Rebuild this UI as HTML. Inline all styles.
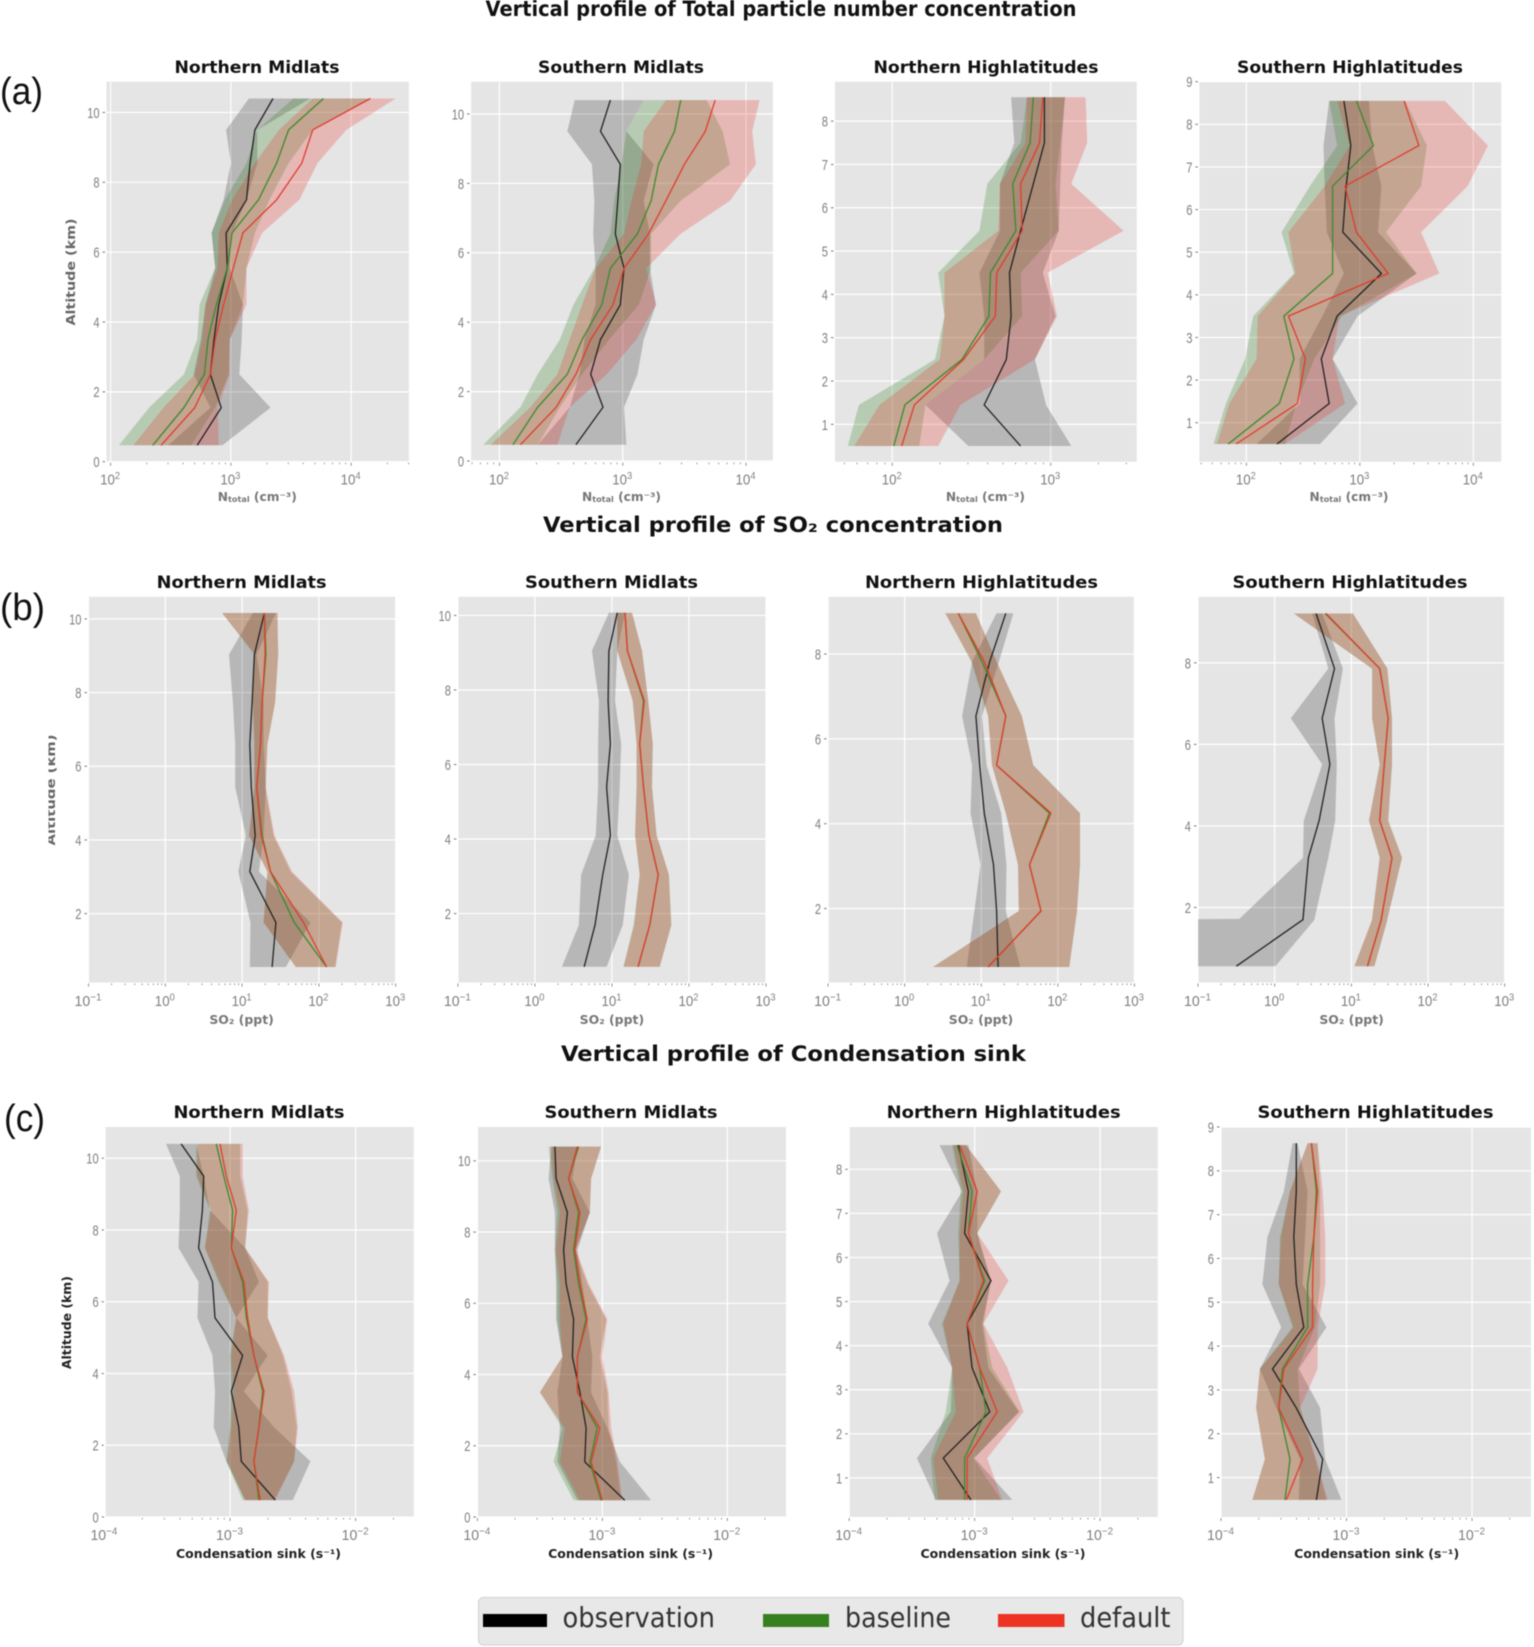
<!DOCTYPE html>
<html lang="en">
<head>
<meta charset="utf-8">
<title>Vertical profiles</title>
<style>
html,body{margin:0;padding:0;background:#fff;}
svg{display:block;filter:blur(0.6px);}
text{font-family:"DejaVu Sans","Liberation Sans",sans-serif;}
.row{font-weight:bold;font-size:21px;fill:#111;text-anchor:middle;}
.pt{font-weight:bold;font-size:16.5px;fill:#111;text-anchor:middle;}
.xl{font-weight:bold;font-size:12px;fill:#777;text-anchor:middle;}
.xd{font-weight:bold;font-size:12px;fill:#222;text-anchor:middle;}
.yl{font-weight:bold;font-size:12px;text-anchor:middle;}
.tag{font-family:"Liberation Sans",sans-serif;font-size:38px;fill:#111;}
.leg{font-size:28px;fill:#333;}
.tick{font-family:"Liberation Sans",sans-serif;font-size:15px;fill:#808080;}
</style>
</head>
<body>
<svg id="fig" xmlns="http://www.w3.org/2000/svg" width="1534" height="1647" viewBox="0 0 1534 1647">
<defs><clipPath id="ylabel-b-clip"><rect x="48.5" y="700" width="20" height="170"/></clipPath></defs>
<rect x="0" y="0" width="1534" height="1647" fill="#fff"/>
<text class="row" x="781" y="16" textLength="591" lengthAdjust="spacingAndGlyphs">Vertical profile of Total particle number concentration</text>
<text class="row" x="773" y="532" textLength="460" lengthAdjust="spacingAndGlyphs">Vertical profile of SO₂ concentration</text>
<text class="row" x="793.5" y="1061" textLength="465" lengthAdjust="spacingAndGlyphs">Vertical profile of Condensation sink</text>
<text class="tag" x="0" y="104" textLength="43" lengthAdjust="spacingAndGlyphs">(a)</text>
<text class="tag" x="0" y="620" textLength="45" lengthAdjust="spacingAndGlyphs">(b)</text>
<text class="tag" x="4" y="1131" textLength="41" lengthAdjust="spacingAndGlyphs">(c)</text>

<text class="pt" x="257" y="73" textLength="165" lengthAdjust="spacingAndGlyphs">Northern Midlats</text>
<text class="pt" x="621" y="73" textLength="166" lengthAdjust="spacingAndGlyphs">Southern Midlats</text>
<text class="pt" x="986" y="73" textLength="225" lengthAdjust="spacingAndGlyphs">Northern Highlatitudes</text>
<text class="pt" x="1350" y="73" textLength="226" lengthAdjust="spacingAndGlyphs">Southern Highlatitudes</text>
<text class="pt" x="241.6" y="588" textLength="170" lengthAdjust="spacingAndGlyphs">Northern Midlats</text>
<text class="pt" x="611.5" y="588" textLength="173" lengthAdjust="spacingAndGlyphs">Southern Midlats</text>
<text class="pt" x="981.5" y="588" textLength="233" lengthAdjust="spacingAndGlyphs">Northern Highlatitudes</text>
<text class="pt" x="1350" y="588" textLength="235" lengthAdjust="spacingAndGlyphs">Southern Highlatitudes</text>
<text class="pt" x="259" y="1118" textLength="171" lengthAdjust="spacingAndGlyphs">Northern Midlats</text>
<text class="pt" x="631" y="1118" textLength="173" lengthAdjust="spacingAndGlyphs">Southern Midlats</text>
<text class="pt" x="1003.7" y="1118" textLength="234" lengthAdjust="spacingAndGlyphs">Northern Highlatitudes</text>
<text class="pt" x="1375.5" y="1118" textLength="236" lengthAdjust="spacingAndGlyphs">Southern Highlatitudes</text>

<text class="xl" x="257.3" y="501" textLength="79" lengthAdjust="spacingAndGlyphs">N<tspan font-size="8" dy="1">total</tspan><tspan dy="-1"> (cm⁻³)</tspan></text>
<text class="xl" x="621.5" y="501" textLength="79" lengthAdjust="spacingAndGlyphs">N<tspan font-size="8" dy="1">total</tspan><tspan dy="-1"> (cm⁻³)</tspan></text>
<text class="xl" x="985.4" y="501" textLength="79" lengthAdjust="spacingAndGlyphs">N<tspan font-size="8" dy="1">total</tspan><tspan dy="-1"> (cm⁻³)</tspan></text>
<text class="xl" x="1349" y="501" textLength="79" lengthAdjust="spacingAndGlyphs">N<tspan font-size="8" dy="1">total</tspan><tspan dy="-1"> (cm⁻³)</tspan></text>
<text class="xl" x="241.6" y="1024" textLength="64.5" lengthAdjust="spacingAndGlyphs">SO₂ (ppt)</text>
<text class="xl" x="611.9" y="1024" textLength="64.5" lengthAdjust="spacingAndGlyphs">SO₂ (ppt)</text>
<text class="xl" x="981" y="1024" textLength="64.5" lengthAdjust="spacingAndGlyphs">SO₂ (ppt)</text>
<text class="xl" x="1351.6" y="1024" textLength="64.5" lengthAdjust="spacingAndGlyphs">SO₂ (ppt)</text>
<text class="xd" x="258.5" y="1558" textLength="165" lengthAdjust="spacingAndGlyphs">Condensation sink (s⁻¹)</text>
<text class="xd" x="630.6" y="1558" textLength="165" lengthAdjust="spacingAndGlyphs">Condensation sink (s⁻¹)</text>
<text class="xd" x="1003" y="1558" textLength="165" lengthAdjust="spacingAndGlyphs">Condensation sink (s⁻¹)</text>
<text class="xd" x="1376.7" y="1558" textLength="165" lengthAdjust="spacingAndGlyphs">Condensation sink (s⁻¹)</text>

<text class="yl" fill="#666" transform="translate(75,272) rotate(-90)" textLength="107" lengthAdjust="spacingAndGlyphs">Altitude (km)</text>
<g clip-path="url(#ylabel-b-clip)"><text class="yl" fill="#666" transform="translate(55,790) rotate(-90)" textLength="111" lengthAdjust="spacingAndGlyphs">Altitude (km)</text></g>
<text class="yl" fill="#222" transform="translate(71,1322.6) rotate(-90)" textLength="93" lengthAdjust="spacingAndGlyphs">Altitude (km)</text>

<g id="plots"></g>

<g>
<rect x="478.5" y="1597.5" width="704.5" height="47.5" rx="5" fill="#e8e8e8" stroke="#d6d6d6" stroke-width="1.2"/>
<rect x="483" y="1614" width="64" height="13" fill="#000"/>
<text class="leg" x="562.5" y="1627" textLength="152.5" lengthAdjust="spacingAndGlyphs">observation</text>
<rect x="763" y="1614" width="66" height="13" fill="#37801f"/>
<text class="leg" x="845" y="1627" textLength="106" lengthAdjust="spacingAndGlyphs">baseline</text>
<rect x="998" y="1614" width="66.5" height="13" fill="#ec3324"/>
<text class="leg" x="1080" y="1627" textLength="90.5" lengthAdjust="spacingAndGlyphs">default</text>
</g>
</svg>

<script>
// All series values are log10 of the plotted quantity.
// Row a: total particle number concentration (cm-3)
const altMid = [0.47,1.55,2.5,3.5,4.5,5.55,6.55,7.5,8.55,9.5,10.4];
const altHigh = [0.5,1.45,2.5,3.5,4.5,5.47,6.55,7.5,8.55];

const a1ObsLo = [2.48,2.83,2.69,2.75,2.79,2.87,2.84,2.94,3.0,2.96,3.15];
const a1ObsMid = [2.72,2.92,2.83,2.86,2.90,2.97,2.96,3.13,3.16,3.20,3.35];
const a1ObsHi = [2.93,3.33,3.07,3.09,3.10,2.99,3.01,3.13,3.22,3.22,3.66];
const a1BaseLo = [2.07,2.32,2.61,2.72,2.74,2.87,2.84,2.95,3.13,3.22,3.52];
const a1BaseMid = [2.35,2.61,2.78,2.81,2.88,2.97,3.01,3.23,3.38,3.48,3.77];
const a1BaseHi = [2.67,2.87,2.98,2.99,3.10,3.13,3.20,3.32,3.48,3.68,4.16];
const a1DefLo = [2.19,2.44,2.70,2.76,2.79,2.89,2.90,3.01,3.20,3.40,3.68];
const a1DefMid = [2.42,2.70,2.83,2.87,2.94,3.02,3.10,3.38,3.59,3.68,4.16];
const a1DefHi = [2.90,2.89,2.99,2.99,3.13,3.13,3.26,3.57,3.72,3.96,4.37];

const a2ObsLo = [2.31,2.57,2.65,2.69,2.78,2.78,2.76,2.77,2.75,2.55,2.61];
const a2ObsMid = [2.62,2.84,2.74,2.82,2.98,3.01,2.94,2.96,2.98,2.82,2.90];
const a2ObsHi = [3.03,3.01,3.12,3.17,3.27,3.22,3.22,3.17,3.25,3.03,3.17];
const a2BaseLo = [1.87,2.17,2.31,2.49,2.60,2.77,2.90,2.93,2.99,3.03,3.17];
const a2BaseMid = [2.11,2.31,2.55,2.67,2.83,2.90,3.12,3.23,3.29,3.42,3.47];
const a2BaseHi = [2.31,2.49,2.67,2.89,3.13,3.23,3.23,3.47,3.87,3.81,3.68];
const a2DefLo = [1.93,2.25,2.47,2.57,2.67,2.78,3.01,3.07,3.15,3.17,3.35];
const a2DefMid = [2.17,2.46,2.62,2.74,2.92,3.01,3.21,3.35,3.50,3.67,3.75];
const a2DefHi = [2.47,2.57,2.87,3.11,3.27,3.19,3.47,3.87,4.08,4.05,4.11];

const a3ObsLo = [2.48,2.21,2.58,2.58,2.55,2.68,2.68,2.77,2.75];
const a3ObsMid = [2.81,2.58,2.72,2.75,2.74,2.81,2.89,2.96,2.96];
const a3ObsHi = [3.13,2.97,2.90,3.03,2.95,3.05,3.06,3.07,3.09];
const a3BaseLo = [1.72,1.79,2.27,2.33,2.29,2.55,2.60,2.81,2.85];
const a3BaseMid = [2.01,2.08,2.44,2.61,2.62,2.78,2.76,2.87,2.89];
const a3BaseHi = [2.17,2.21,2.58,2.82,2.81,3.05,3.03,3.06,3.09];
const a3DefLo = [1.76,1.92,2.30,2.33,2.33,2.67,2.68,2.84,2.85];
const a3DefMid = [2.06,2.14,2.45,2.65,2.66,2.82,2.81,2.93,2.95];
const a3DefHi = [2.29,2.43,2.90,3.04,2.98,3.46,3.13,3.23,3.22];

const a4ObsLo = [2.09,2.47,2.47,2.67,2.86,2.71,2.69,2.68,2.73];
const a4ObsMid = [2.27,2.73,2.66,2.80,3.19,2.85,2.88,2.92,2.86];
const a4ObsHi = [2.65,2.98,2.76,2.98,3.50,3.16,3.19,3.11,3.08];
const a4BaseLo = [1.71,1.82,1.99,2.06,2.42,2.31,2.56,2.80,2.73];
const a4BaseMid = [1.84,2.29,2.42,2.33,2.76,2.76,2.76,3.12,2.97];
const a4BaseHi = [2.34,2.44,2.60,2.84,3.50,3.23,3.54,3.59,3.40];
const a4DefLo = [1.74,1.85,2.09,2.10,2.43,2.37,2.69,2.91,2.80];
const a4DefMid = [1.91,2.45,2.52,2.37,3.25,2.97,2.87,3.52,3.39];
const a4DefHi = [2.34,2.87,2.76,2.82,3.70,3.54,3.95,4.13,3.75];

// Row b: SO2 concentration (ppt)
const b1Alt = [0.55,1.76,3.14,4.12,5.43,6.6,7.73,9.03,10.16];
const b1ObsLo = [1.10,1.11,0.95,1.05,0.91,0.91,0.88,0.83,1.14];
const b1ObsMid = [1.39,1.44,1.10,1.17,1.12,1.10,1.13,1.16,1.29];
const b1ObsHi = [1.57,1.89,1.22,1.28,1.31,1.28,1.28,1.19,1.44];
const b1BaseLo = [1.70,1.28,1.33,1.09,1.16,1.16,1.14,1.16,0.74];
const b1BaseMid = [2.10,1.68,1.37,1.26,1.19,1.24,1.26,1.31,1.29];
const b1BaseHi = [2.21,2.30,1.63,1.41,1.30,1.33,1.43,1.47,1.46];
const b1DefLo = [1.70,1.28,1.33,1.09,1.16,1.16,1.14,1.17,0.74];
const b1DefMid = [2.10,1.80,1.37,1.25,1.19,1.24,1.26,1.30,1.29];
const b1DefHi = [2.22,2.31,1.65,1.42,1.31,1.33,1.43,1.47,1.46];

const b2Alt = [0.57,1.69,3.04,4.1,5.4,6.55,7.71,9.05,10.07];
const b2ObsLo = [0.35,0.57,0.60,0.79,0.82,0.82,0.83,0.74,0.96];
const b2ObsMid = [0.64,0.78,0.88,0.98,0.93,0.98,0.95,0.96,1.07];
const b2ObsHi = [0.93,1.14,1.22,1.07,1.10,1.12,1.04,1.07,1.17];
const b2BaseLo = [1.15,1.28,1.36,1.30,1.32,1.32,1.27,1.07,1.07];
const b2BaseMid = [1.34,1.49,1.60,1.48,1.41,1.36,1.41,1.20,1.17];
const b2BaseHi = [1.62,1.77,1.74,1.58,1.52,1.53,1.47,1.39,1.26];
const b2DefLo = [1.15,1.29,1.36,1.30,1.32,1.32,1.27,1.07,1.07];
const b2DefMid = [1.34,1.49,1.60,1.48,1.41,1.36,1.42,1.20,1.17];
const b2DefHi = [1.62,1.77,1.74,1.58,1.52,1.53,1.47,1.39,1.26];

const b3Alt = [0.62,1.94,3.03,4.25,5.38,6.54,7.82,8.96];
const b3ObsLo = [0.81,0.91,0.99,0.86,0.88,0.75,0.88,1.20];
const b3ObsMid = [1.22,1.20,1.16,1.04,0.98,0.93,1.11,1.32];
const b3ObsHi = [1.51,1.32,1.33,1.26,1.07,1.01,1.23,1.42];
const b3BaseLo = [0.37,1.49,1.48,1.32,1.14,1.09,0.87,0.53];
const b3BaseMid = [1.09,1.78,1.63,1.89,1.20,1.32,1.01,0.70];
const b3BaseHi = [2.15,2.25,2.29,2.29,1.68,1.53,1.20,0.93];
const b3DefLo = [0.37,1.49,1.48,1.32,1.14,1.09,0.88,0.53];
const b3DefMid = [1.09,1.78,1.63,1.91,1.20,1.32,1.04,0.70];
const b3DefHi = [2.15,2.25,2.29,2.29,1.68,1.53,1.20,0.93];

const b4Alt = [0.56,1.7,1.72,3.22,4.13,5.51,6.64,7.86,9.21];
const b4ObsLo = [-3,-3,-0.46,0.37,0.38,0.62,0.21,0.70,0.49];
const b4ObsMid = [-0.50,0.37,0.37,0.44,0.58,0.72,0.62,0.78,0.54];
const b4ObsHi = [0.01,0.52,0.52,0.70,0.79,0.81,0.78,0.89,0.62];
const b4BaseLo = [1.04,1.27,1.27,1.37,1.23,1.37,1.27,1.27,0.25];
const b4BaseMid = [1.21,1.39,1.39,1.53,1.37,1.43,1.48,1.37,0.66];
const b4BaseHi = [1.30,1.47,1.47,1.66,1.48,1.53,1.53,1.47,1.02];
const b4DefLo = [1.04,1.27,1.27,1.37,1.23,1.37,1.27,1.27,0.25];
const b4DefMid = [1.21,1.39,1.39,1.53,1.37,1.43,1.48,1.37,0.67];
const b4DefHi = [1.30,1.47,1.47,1.66,1.48,1.53,1.53,1.47,1.02];

// Row c: condensation sink (s-1)
const c1ObsLo = [-2.88,-3.03,-3.13,-3.12,-3.14,-3.26,-3.25,-3.41,-3.40,-3.40,-3.51];
const c1ObsMid = [-2.64,-2.91,-2.93,-2.99,-2.90,-3.12,-3.14,-3.25,-3.22,-3.21,-3.39];
const c1ObsHi = [-2.50,-2.36,-2.65,-2.89,-2.70,-2.95,-2.77,-2.88,-3.16,-3.21,-3.27];
const c1BaseLo = [-2.90,-3.03,-3.0,-2.99,-3.0,-2.95,-3.09,-3.20,-3.16,-3.27,-3.27];
const c1BaseMid = [-2.77,-2.81,-2.77,-2.74,-2.81,-2.87,-2.90,-2.99,-2.98,-3.05,-3.11];
const c1BaseHi = [-2.65,-2.49,-2.47,-2.51,-2.58,-2.70,-2.70,-2.88,-2.86,-2.92,-2.92];
const c1DefLo = [-2.88,-3.02,-2.99,-2.97,-2.99,-2.95,-3.08,-3.20,-3.15,-3.26,-3.26];
const c1DefMid = [-2.76,-2.81,-2.77,-2.73,-2.81,-2.86,-2.89,-2.99,-2.95,-3.03,-3.08];
const c1DefHi = [-2.64,-2.49,-2.46,-2.49,-2.57,-2.70,-2.69,-2.88,-2.85,-2.90,-2.90];

const c2ObsLo = [-3.20,-3.36,-3.34,-3.36,-3.32,-3.37,-3.37,-3.38,-3.38,-3.43,-3.41];
const c2ObsMid = [-2.82,-3.14,-3.13,-3.18,-3.24,-3.23,-3.29,-3.31,-3.28,-3.37,-3.38];
const c2ObsHi = [-2.61,-2.86,-2.96,-3.09,-3.08,-3.12,-3.16,-3.20,-3.10,-3.24,-3.20];
const c2BaseLo = [-3.23,-3.39,-3.32,-3.50,-3.32,-3.36,-3.36,-3.38,-3.36,-3.40,-3.43];
const c2BaseMid = [-3.01,-3.10,-3.04,-3.20,-3.20,-3.13,-3.19,-3.23,-3.19,-3.27,-3.19];
const c2BaseHi = [-2.85,-2.89,-2.95,-2.96,-3.02,-2.97,-3.12,-3.22,-3.10,-3.09,-3.01];
const c2DefLo = [-3.18,-3.34,-3.30,-3.50,-3.32,-3.34,-3.34,-3.37,-3.34,-3.39,-3.41];
const c2DefMid = [-3.00,-3.09,-3.02,-3.20,-3.20,-3.12,-3.18,-3.22,-3.18,-3.27,-3.20];
const c2DefHi = [-2.84,-2.88,-2.93,-2.95,-3.0,-2.96,-3.11,-3.21,-3.10,-3.09,-3.01];

const c3ObsLo = [-3.31,-3.46,-3.19,-3.18,-3.37,-3.20,-3.30,-3.10,-3.28];
const c3ObsMid = [-3.03,-3.25,-2.88,-3.02,-3.06,-2.87,-3.08,-3.05,-3.13];
const c3ObsHi = [-2.70,-3.0,-2.65,-2.89,-2.94,-2.87,-2.98,-2.98,-3.05];
const c3BaseLo = [-3.32,-3.35,-3.23,-3.18,-3.26,-3.12,-3.13,-3.11,-3.18];
const c3BaseMid = [-3.08,-3.08,-2.91,-2.96,-3.06,-2.92,-3.05,-3.02,-3.14];
const c3BaseHi = [-2.79,-3.01,-2.64,-2.86,-2.93,-2.87,-2.98,-2.79,-3.07];
const c3DefLo = [-3.29,-3.33,-3.15,-3.18,-3.25,-3.12,-3.12,-3.09,-3.17];
const c3DefMid = [-3.06,-3.06,-2.82,-2.96,-3.06,-2.93,-3.05,-2.98,-3.12];
const c3DefHi = [-2.78,-2.90,-2.61,-2.74,-2.93,-2.73,-2.98,-2.79,-3.07];

const c4Alt = [0.49,1.42,2.59,3.48,4.43,5.41,6.49,7.53,8.63];
const c4ObsLo = [-3.38,-3.37,-3.56,-3.69,-3.52,-3.67,-3.63,-3.50,-3.43];
const c4ObsMid = [-3.24,-3.19,-3.40,-3.59,-3.34,-3.40,-3.42,-3.40,-3.40];
const c4ObsHi = [-3.04,-3.17,-3.21,-3.38,-3.16,-3.35,-3.33,-3.31,-3.39];
const c4BaseLo = [-3.75,-3.65,-3.72,-3.69,-3.43,-3.54,-3.53,-3.45,-3.31];
const c4BaseMid = [-3.49,-3.45,-3.54,-3.51,-3.31,-3.31,-3.26,-3.24,-3.28];
const c4BaseHi = [-3.16,-3.25,-3.37,-3.39,-3.25,-3.21,-3.21,-3.21,-3.23];
const c4DefLo = [-3.75,-3.65,-3.72,-3.69,-3.42,-3.54,-3.52,-3.45,-3.31];
const c4DefMid = [-3.48,-3.35,-3.54,-3.50,-3.27,-3.27,-3.26,-3.23,-3.28];
const c4DefHi = [-3.15,-3.24,-3.37,-3.23,-3.23,-3.17,-3.17,-3.19,-3.23];

// Tick labels (decade exponents and altitudes)
const decadesA12 = [2,3,4];
const decadesA3 = [2,3];
const decadesB = [-1,0,1,2,3];
const decadesC = [-4,-3,-2];
const altTicksEven = [0,2,4,6,8,10];
const altTicksEvenNoZero = [2,4,6,8,10];
const altTicksB34 = [2,4,6,8];
const altTicks8 = [1,2,3,4,5,6,7,8];
const altTicks9 = [1,2,3,4,5,6,7,8,9];

const OBS = {name:'observation', color:'#000000', alpha:0.2, line:'#222222'};
const BASE = {name:'baseline', color:'#2f7f1e', alpha:0.25, line:'#3b8a2c'};
const DEF = {name:'default', color:'#e8322a', alpha:0.25, line:'#e23c2c'};

const panels = [
  {id:'a1',box:[106.6,408.9,81.7,461.7],xlim:[1.967,4.48],ylim:[0,10.88],xt:decadesA12,yt:altTicksEven,alt:altMid,s:[[OBS,a1ObsLo,a1ObsMid,a1ObsHi],[BASE,a1BaseLo,a1BaseMid,a1BaseHi],[DEF,a1DefLo,a1DefMid,a1DefHi]],tickY:484.5},
  {id:'a2',box:[471.1,772.9,81.7,461.7],xlim:[1.77,4.218],ylim:[-0.02,10.93],xt:decadesA12,yt:altTicksEven,alt:altMid,s:[[OBS,a2ObsLo,a2ObsMid,a2ObsHi],[BASE,a2BaseLo,a2BaseMid,a2BaseHi],[DEF,a2DefLo,a2DefMid,a2DefHi]],tickY:484.5},
  {id:'a3',box:[835,1136.8,81.7,461.7],xlim:[1.639,3.543],ylim:[0.138,8.91],xt:decadesA3,yt:altTicks8,alt:altHigh,s:[[OBS,a3ObsLo,a3ObsMid,a3ObsHi],[BASE,a3BaseLo,a3BaseMid,a3BaseHi],[DEF,a3DefLo,a3DefMid,a3DefHi]],tickY:484.5},
  {id:'a4',box:[1199.4,1501.2,81.7,461.7],xlim:[1.586,4.246],ylim:[0.085,9.0],xt:decadesA12,yt:altTicks9,alt:altHigh,s:[[OBS,a4ObsLo,a4ObsMid,a4ObsHi],[BASE,a4BaseLo,a4BaseMid,a4BaseHi],[DEF,a4DefLo,a4DefMid,a4DefHi]],tickY:484.5},
  {id:'b1',box:[88.5,395.7,596.8,982.5],xlim:[-1,3],ylim:[0.13,10.6],xt:decadesB,yt:altTicksEvenNoZero,alt:b1Alt,s:[[OBS,b1ObsLo,b1ObsMid,b1ObsHi],[BASE,b1BaseLo,b1BaseMid,b1BaseHi],[DEF,b1DefLo,b1DefMid,b1DefHi]],tickY:1006},
  {id:'b2',box:[457.9,766,596.8,982.5],xlim:[-1,3],ylim:[0.15,10.5],xt:decadesB,yt:altTicksEvenNoZero,alt:b2Alt,s:[[OBS,b2ObsLo,b2ObsMid,b2ObsHi],[BASE,b2BaseLo,b2BaseMid,b2BaseHi],[DEF,b2DefLo,b2DefMid,b2DefHi]],tickY:1006},
  {id:'b3',box:[828.1,1134.4,596.8,982.5],xlim:[-1,3],ylim:[0.255,9.35],xt:decadesB,yt:altTicksB34,alt:b3Alt,s:[[OBS,b3ObsLo,b3ObsMid,b3ObsHi],[BASE,b3BaseLo,b3BaseMid,b3BaseHi],[DEF,b3DefLo,b3DefMid,b3DefHi]],tickY:1006},
  {id:'b4',box:[1198,1504.7,596.8,982.5],xlim:[-1,3],ylim:[0.16,9.62],xt:decadesB,yt:altTicksB34,alt:b4Alt,s:[[OBS,b4ObsLo,b4ObsMid,b4ObsHi],[BASE,b4BaseLo,b4BaseMid,b4BaseHi],[DEF,b4DefLo,b4DefMid,b4DefHi]],tickY:1006},
  {id:'c1',box:[105.7,413.8,1127,1517],xlim:[-3.99,-1.537],ylim:[0,10.87],xt:decadesC,yt:altTicksEven,alt:altMid,s:[[OBS,c1ObsLo,c1ObsMid,c1ObsHi],[BASE,c1BaseLo,c1BaseMid,c1BaseHi],[DEF,c1DefLo,c1DefMid,c1DefHi]],tickY:1540},
  {id:'c2',box:[477.4,786,1127,1517],xlim:[-4,-1.53],ylim:[0,10.95],xt:decadesC,yt:altTicksEven,alt:altMid,s:[[OBS,c2ObsLo,c2ObsMid,c2ObsHi],[BASE,c2BaseLo,c2BaseMid,c2BaseHi],[DEF,c2DefLo,c2DefMid,c2DefHi]],tickY:1540},
  {id:'c3',box:[849.2,1157.8,1127,1517],xlim:[-4,-1.54],ylim:[0.113,8.96],xt:decadesC,yt:altTicks8,alt:altHigh,s:[[OBS,c3ObsLo,c3ObsMid,c3ObsHi],[BASE,c3BaseLo,c3BaseMid,c3BaseHi],[DEF,c3DefLo,c3DefMid,c3DefHi]],tickY:1540},
  {id:'c4',box:[1221,1531,1127,1517],xlim:[-4,-1.53],ylim:[0.1,9.0],xt:decadesC,yt:altTicks9,alt:c4Alt,s:[[OBS,c4ObsLo,c4ObsMid,c4ObsHi],[BASE,c4BaseLo,c4BaseMid,c4BaseHi],[DEF,c4DefLo,c4DefMid,c4DefHi]],tickY:1540}
];

const NS = 'http://www.w3.org/2000/svg';
const root = document.getElementById('plots');
const defs = document.querySelector('#fig defs');

function make(tag, attrs, parent) {
  const el = document.createElementNS(NS, tag);
  for (const k in attrs) el.setAttribute(k, attrs[k]);
  parent.appendChild(el);
  return el;
}

function drawPanel(p) {
  const [left, right, top, bottom] = p.box;
  const xScale = v => left + (v - p.xlim[0]) / (p.xlim[1] - p.xlim[0]) * (right - left);
  const yScale = v => bottom - (v - p.ylim[0]) / (p.ylim[1] - p.ylim[0]) * (bottom - top);

  const g = make('g', {}, root);
  
  

  const clip = make('clipPath', {id: 'clip-' + p.id}, defs);
  make('rect', {x: left, y: top, width: right - left, height: bottom - top}, clip);

  const bg = make('rect', {x: left, y: top, width: right - left, height: bottom - top, fill: '#e5e5e5'}, g);
  
  

  p.yt.forEach(t => {
    const y = yScale(t);
    const line = make('line', {x1: left, x2: right, y1: y, y2: y, stroke: '#fff', 'stroke-width': 1.2}, g);
    
    
    const tick = make('line', {x1: left - 4, x2: left - 1.5, y1: y, y2: y, stroke: '#777', 'stroke-width': 1}, g);
    
    
    const label = make('text', {x: left - 7, y: y + 5.4, 'text-anchor': 'end', class: 'tick', textLength: String(t).length * 6.2, lengthAdjust: 'spacingAndGlyphs'}, g);
    
    
    label.textContent = String(t);
  });

  p.xt.forEach(e => {
    const x = xScale(e);
    const line = make('line', {x1: x, x2: x, y1: top, y2: bottom, stroke: '#fff', 'stroke-width': 1.2}, g);
    
    
    const neg = e < 0;
    const label = make('text', {x: x - (neg ? 14 : 10.5), y: p.tickY, class: 'tick', textLength: neg ? 27 : 20, lengthAdjust: 'spacingAndGlyphs'}, g);
    
    
    label.textContent = '10';
    const sup = make('tspan', {dy: -5.5, 'font-size': 10.5}, label);
    sup.textContent = String(e).replace('-', '−');
  });

  // Major and minor log ticks below the axis.
  for (let e = Math.floor(p.xlim[0]); e <= Math.ceil(p.xlim[1]); e++) {
    for (let k = 1; k <= 9; k++) {
      const v = e + Math.log10(k);
      if (v < p.xlim[0] - 1e-6 || v > p.xlim[1] + 1e-6) continue;
      const x = xScale(v);
      const tick = make('line', {x1: x, x2: x, y1: bottom + 1, y2: bottom + (k === 1 ? 4 : 2.5), stroke: '#777', 'stroke-width': 0.8}, g);
      
      
    }
  }

  const plot = make('g', {'clip-path': 'url(#clip-' + p.id + ')'}, g);
  
  

  p.s.forEach(([style, lo, mid, hi]) => {
    const up = p.alt.map((a, i) => xScale(lo[i]).toFixed(1) + ',' + yScale(a).toFixed(1));
    const down = p.alt.map((a, i) => xScale(hi[i]).toFixed(1) + ',' + yScale(a).toFixed(1)).reverse();
    const band = make('polygon', {points: up.concat(down).join(' '), fill: style.color, 'fill-opacity': style.alpha}, plot);
    
    
  });
  p.s.forEach(([style, lo, mid, hi]) => {
    const pts = p.alt.map((a, i) => xScale(mid[i]).toFixed(1) + ',' + yScale(a).toFixed(1)).join(' ');
    const line = make('polyline', {points: pts, fill: 'none', stroke: style.line, 'stroke-width': 1.3}, plot);
    
    
  });
}

panels.forEach(drawPanel);
</script>
</body>
</html>
